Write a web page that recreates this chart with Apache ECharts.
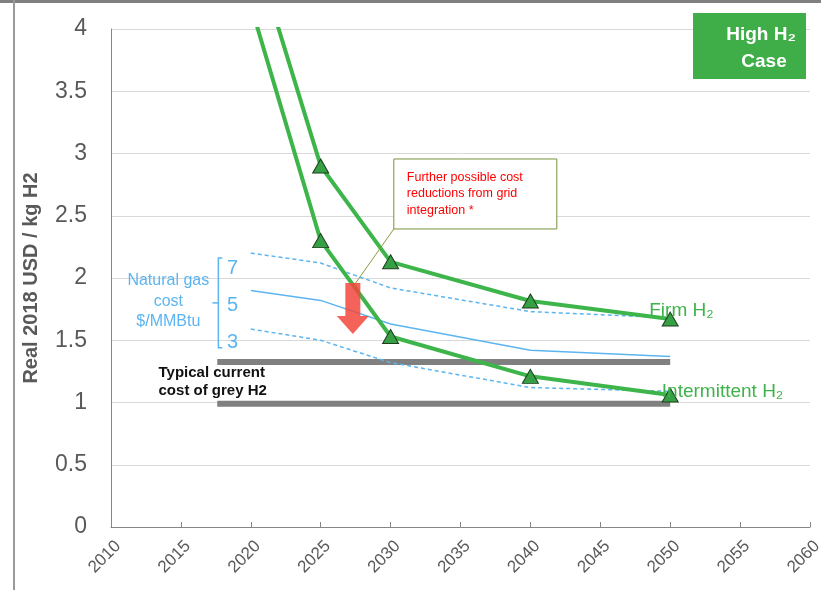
<!DOCTYPE html>
<html>
<head>
<meta charset="utf-8">
<script src="https://cdn.jsdelivr.net/npm/echarts@6/dist/echarts.min.js"></script>
<style>
  html, body { margin: 0; padding: 0; background: #fff; }
  #chart { width: 821px; height: 590px; }
</style>
</head>
<body>
<div id="chart"></div>
<script>
// 数据
const years = [2020, 2025, 2030, 2040, 2050];
const firmH2 = [4.73, 2.9, 2.13, 1.815, 1.67];
const intermittentH2 = [4.19, 2.3, 1.53, 1.21, 1.06];
const gas7 = [2.2, 2.12, 1.92, 1.73, 1.68];
const gas5 = [1.9, 1.82, 1.63, 1.42, 1.37];
const gas3 = [1.59, 1.5, 1.32, 1.12, 1.09];
const greyYears = [2017.6, 2050];
const greyUpper = [1.325, 1.325];
const greyLower = [0.99, 0.99];
const gasLabels = ["7", "5", "3"];

const GREEN = "#3db54a";
const BLUE = "#5cb5f0";
const FONT = "'Liberation Sans', Arial, sans-serif";

const pairs = (xs, ys) => xs.map((x, i) => [x, ys[i]]);
// 2020 点不画三角
const withMarks = (ys) =>
  years.map((x, i) => (i === 0 ? { value: [x, ys[i]], symbol: "none" } : [x, ys[i]]));

const chart = echarts.init(document.getElementById("chart"));

function greyBar(data) {
  return {
    type: "line",
    data: data,
    symbol: "none",
    z: 1,
    lineStyle: { color: "#808080", width: 6 },
    silent: true,
  };
}
function gasLine(data, dashed) {
  return {
    type: "line",
    data: data,
    symbol: "none",
    z: 2,
    lineStyle: { color: BLUE, width: 1.5, type: dashed ? [4, 3] : "solid" },
    silent: true,
  };
}
function h2Line(data) {
  return {
    type: "line",
    data: data,
    symbol: "triangle",
    symbolSize: [16, 14],
    z: 5,
    lineStyle: { color: GREEN, width: 4 },
    itemStyle: { color: "#35a044", borderColor: "#1f3d1f", borderWidth: 1 },
    silent: true,
  };
}

const options = {
  animation: false,
  grid: { left: 111, right: 11, top: 29, bottom: 63, containLabel: false, outerBoundsMode: "none" },
  xAxis: {
    type: "value",
    min: 2010,
    max: 2060,
    interval: 5,
    splitLine: { show: false },
    axisLine: { lineStyle: { color: "#868686", width: 1 } },
    axisTick: { show: true, inside: true, length: 5, lineStyle: { color: "#868686" } },
    axisLabel: {
      rotate: 45,
      color: "#595959",
      fontSize: 17,
      fontFamily: FONT,
      margin: 1,
      verticalAlign: "top",
      padding: [7.5, 6, 0, 0],
      formatter: (v) => String(v),
    },
  },
  yAxis: {
    type: "value",
    min: 0,
    max: 4,
    interval: 0.5,
    name: "Real 2018 USD / kg H2",
    nameLocation: "middle",
    nameGap: 70,
    nameTextStyle: { fontSize: 20, fontWeight: "bold", color: "#595959", fontFamily: FONT },
    axisLine: { show: true, lineStyle: { color: "#868686" } },
    axisTick: { show: false },
    splitLine: { lineStyle: { color: "#d9d9d9", width: 1 } },
    axisLabel: { color: "#595959", fontSize: 23, fontFamily: FONT, margin: 24 },
  },
  series: [
    greyBar(pairs(greyYears, greyUpper)),
    greyBar(pairs(greyYears, greyLower)),
    gasLine(pairs(years, gas7), true),
    gasLine(pairs(years, gas5), false),
    gasLine(pairs(years, gas3), true),
    h2Line(withMarks(firmH2)),
    h2Line(withMarks(intermittentH2)),
  ],
};
chart.setOption(options);

// 注释
const px = (x, y) => chart.convertToPixel({ gridIndex: 0 }, [x, y]);
function txt(pos, text, style, align) {
  return {
    type: "text",
    x: pos[0],
    y: pos[1],
    z: 100,
    style: Object.assign(
      { text: text, fontFamily: FONT, align: align || "left", verticalAlign: "middle" },
      style
    ),
  };
}

const graphics = [];
// 外框
graphics.push({ type: "rect", z: 100, shape: { x: 0, y: 0, width: 821, height: 3 }, style: { fill: "#808080" } });
graphics.push({ type: "rect", z: 100, shape: { x: 13, y: 0, width: 2, height: 590 }, style: { fill: "#9a9a9a" } });

// High H2 Case
graphics.push({ type: "rect", z: 100, shape: { x: 693, y: 13, width: 113, height: 66 }, style: { fill: "#3fae49" } });
graphics.push(txt([761, 35], "High H₂", { fontSize: 19, fontWeight: "bold", fill: "#fff" }, "center"));
graphics.push(txt([764, 62], "Case", { fontSize: 19, fontWeight: "bold", fill: "#fff" }, "center"));

// 红色箭头
const aTop = px(2027.3, 1.96);
const aTip = px(2027.3, 1.55);
const cx = aTop[0];
graphics.push({
  type: "polygon",
  z: 100,
  shape: {
    points: [
      [cx - 7.5, aTop[1]], [cx + 7.5, aTop[1]], [cx + 7.5, aTip[1] - 18], [cx + 16, aTip[1] - 18],
      [cx, aTip[1]], [cx - 16, aTip[1] - 18], [cx - 7.5, aTip[1] - 18],
    ],
  },
  style: { fill: "#f2473c", opacity: 0.85 },
});

// 说明框
const box = px(2030.23, 2.956);
graphics.push({
  type: "rect",
  z: 100,
  shape: { x: box[0], y: box[1], width: 163, height: 70 },
  style: { fill: "#fff", stroke: "#77933c", lineWidth: 1 },
});
graphics.push({
  type: "line",
  z: 99,
  shape: { x1: box[0], y1: box[1] + 70, x2: cx, y2: aTop[1] + 4 },
  style: { stroke: "#8a9a3c", lineWidth: 1 },
});
graphics.push({
  type: "text",
  x: box[0] + 13,
  y: box[1] + 10,
  z: 101,
  style: {
    text: "Further possible cost\nreductions from grid\nintegration *",
    fontFamily: FONT,
    fontSize: 12.5,
    lineHeight: 16.5,
    fill: "#ff0000",
    align: "left",
    verticalAlign: "top",
  },
});

// 天然气价格括号
const bTop = px(2017.68, 2.16);
const bBot = px(2017.68, 1.44);
const bMid = (bTop[1] + bBot[1]) / 2;
graphics.push({
  type: "polyline",
  z: 100,
  shape: { points: [[bTop[0] + 4, bTop[1]], [bTop[0], bTop[1]], [bTop[0], bBot[1]], [bTop[0] + 4, bBot[1]]] },
  style: { stroke: BLUE, lineWidth: 1.5, fill: null },
});
graphics.push({
  type: "line",
  z: 100,
  shape: { x1: bTop[0] - 6, y1: bMid, x2: bTop[0], y2: bMid },
  style: { stroke: BLUE, lineWidth: 1.5 },
});
[2.08, 1.78, 1.48].forEach((v, i) => {
  graphics.push(txt(px(2018.7, v), gasLabels[i], { fontSize: 20, fill: BLUE }, "center"));
});
graphics.push(txt(px(2014.1, 1.976), "Natural gas", { fontSize: 16, fill: BLUE }, "center"));
graphics.push(txt(px(2014.1, 1.807), "cost", { fontSize: 16, fill: BLUE }, "center"));
graphics.push(txt(px(2014.1, 1.647), "$/MMBtu", { fontSize: 16, fill: BLUE }, "center"));

// 灰氢
graphics.push(txt(px(2013.4, 1.237), "Typical current", { fontSize: 15, fontWeight: "bold", fill: "#111" }));
graphics.push(txt(px(2013.4, 1.092), "cost of grey H2", { fontSize: 15, fontWeight: "bold", fill: "#111" }));

// 系列标签
graphics.push(txt(px(2048.5, 1.735), "Firm H₂", { fontSize: 19, fill: "#3fb34b" }));
graphics.push(txt(px(2049.4, 1.084), "Intermittent H₂", { fontSize: 19, fill: "#3fb34b" }));

chart.setOption({ graphic: graphics });

window.onresize = function () {
  chart.resize();
};
</script>
</body>
</html>
